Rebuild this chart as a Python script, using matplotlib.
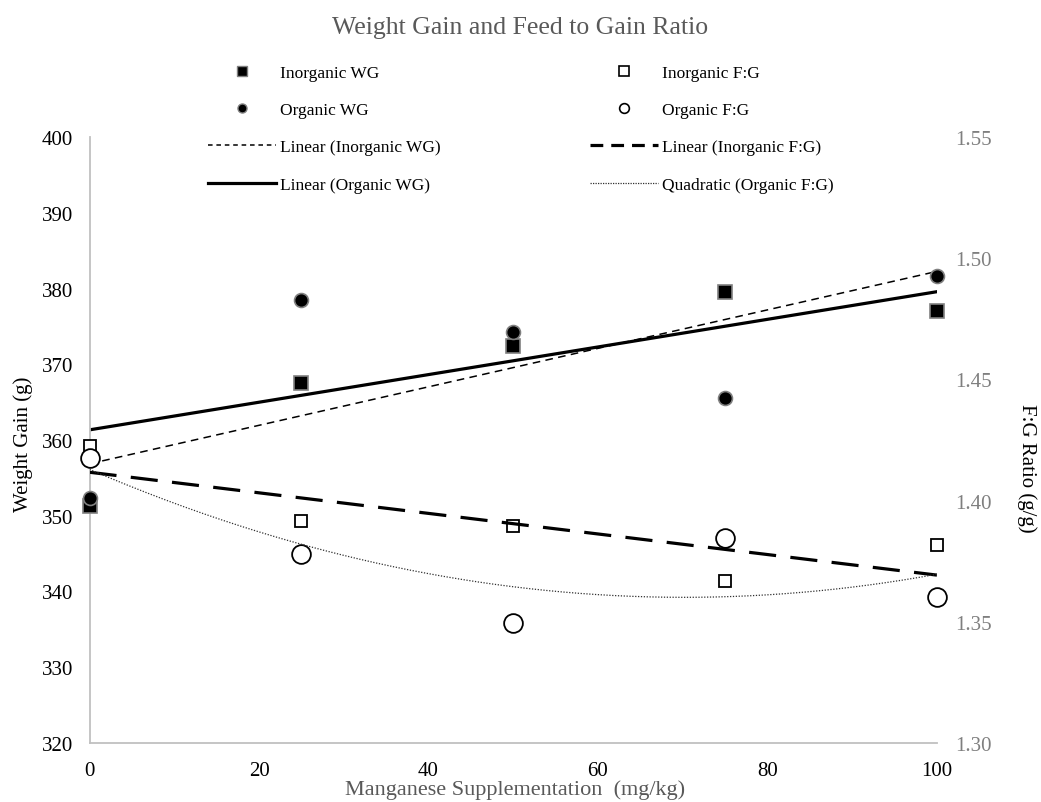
import numpy as np
import matplotlib
matplotlib.use('Agg')
import matplotlib.pyplot as plt
from matplotlib.lines import Line2D

plt.rcParams['font.family'] = ['Liberation Serif', 'DejaVu Serif']

# Data
mn_level = [0, 25, 50, 75, 100]                      # mg/kg
inorganic_wg = [351.3, 367.5, 372.4, 379.6, 377.0]   # g
organic_wg = [352.4, 378.5, 374.2, 365.5, 381.7]     # g
inorganic_fg = [1.4224, 1.3917, 1.3896, 1.3670, 1.3817]
organic_fg = [1.4174, 1.3780, 1.3494, 1.3844, 1.3601]

x_ticks = [0, 20, 40, 60, 80, 100]
wg_ticks = list(range(320, 401, 10))
fg_ticks = [1.30, 1.35, 1.40, 1.45, 1.50, 1.55]

GRAY_TXT = '#595959'
SPINE = '#c0c0c0'
MEC = '#808080'

fig = plt.figure(figsize=(10.41, 8.03), dpi=100)
ax = fig.add_axes([0.086, 0.0735, 0.814, 0.7546])
ax2 = ax.twinx()

x = np.array(mn_level, dtype=float)
xs = np.linspace(0, 100, 400)

# weight gain (left axis)
ax.plot(x, inorganic_wg, ls='none', marker='s', ms=10.5, mfc='black',
        mec=MEC, mew=1.2, zorder=3, clip_on=False)
ax.plot(x, organic_wg, ls='none', marker='o', ms=10, mfc='black',
        mec=MEC, mew=1.2, zorder=3, clip_on=False)

k = np.polyfit(x, inorganic_wg, 1)
ax.plot(xs, np.polyval(k, xs), color='black', lw=1.1, dashes=(5, 3.5), zorder=2)
k = np.polyfit(x, organic_wg, 1)
ax.plot(xs, np.polyval(k, xs), color='black', lw=2.3, zorder=2)

# feed to gain (right axis)
ax2.plot(x, inorganic_fg, ls='none', marker='s', ms=8, mfc='white',
         mec='black', mew=1.3, zorder=2, clip_on=False)
ax2.plot(x, organic_fg, ls='none', marker='o', ms=13.5, mfc='white',
         mec='black', mew=1.3, zorder=2, clip_on=False)

k = np.polyfit(x, inorganic_fg, 1)
ax2.plot(xs, np.polyval(k, xs), color='black', lw=2.3, dashes=(8.5, 4.5), zorder=3)
k = np.polyfit(x, organic_fg, 2)
ax2.plot(xs, np.polyval(k, xs), color='#303030', lw=0.9, ls=(0, (1, 1.3)), zorder=3)

# axes styling
ax.set_xlim(0, 100)
ax.set_ylim(320, 400)
ax2.set_ylim(1.30, 1.55)
ax.set_xticks(x_ticks)
ax.set_yticks(wg_ticks)
ax2.set_yticks(fg_ticks)
ax2.set_yticklabels([f'{v:.2f}' for v in fg_ticks])

for s in ['top', 'right']:
    ax.spines[s].set_visible(False)
for s in ax2.spines.values():
    s.set_visible(False)
ax.spines['left'].set_color(SPINE)
ax.spines['bottom'].set_color(SPINE)
ax.spines['left'].set_linewidth(1.3)
ax.spines['bottom'].set_linewidth(1.3)

ax.tick_params(axis='x', length=0, pad=13, labelsize=15, colors='black')
ax.tick_params(axis='y', length=0, pad=12, labelsize=15, colors='black')
ax2.tick_params(axis='y', length=0, pad=13, labelsize=15, colors='#7f7f7f')

fig.text(0.4995, 1 - 28 / 803, 'Weight Gain and Feed to Gain Ratio',
         ha='center', va='center', fontsize=18.5, color=GRAY_TXT)
fig.text(515 / 1041, 1 - 790 / 803, 'Manganese Supplementation  (mg/kg)',
         ha='center', va='center', fontsize=16, color=GRAY_TXT)
fig.text(23 / 1041, 1 - 444 / 803, 'Weight Gain (g)', rotation=90,
         ha='center', va='center', fontsize=15, color='black')
fig.text(1027 / 1041, 1 - 468 / 803, 'F:G Ratio (g/g)', rotation=270,
         ha='center', va='center', fontsize=15, color='black')

# legend, two columns placed separately
left_handles = [
    Line2D([], [], ls='none', marker='s', ms=7, mfc='black', mec=MEC, mew=1),
    Line2D([], [], ls='none', marker='o', ms=6.5, mfc='black', mec=MEC, mew=1),
    Line2D([], [], color='black', lw=1.1, dashes=(3, 2.5)),
    Line2D([], [], color='black', lw=2.3),
]
left_labels = ['Inorganic WG', 'Organic WG', 'Linear (Inorganic WG)', 'Linear (Organic WG)']
right_handles = [
    Line2D([], [], ls='none', marker='s', ms=6.5, mfc='white', mec='black', mew=1.2),
    Line2D([], [], ls='none', marker='o', ms=7, mfc='white', mec='black', mew=1.2),
    Line2D([], [], color='black', lw=2.3, dashes=(4, 2.5)),
    Line2D([], [], color='#303030', lw=0.9, ls=(0, (1, 1))),
]
right_labels = ['Inorganic F:G', 'Organic F:G', 'Linear (Inorganic F:G)', 'Quadratic (Organic F:G)']

for hs, ls_, x0 in [(left_handles, left_labels, 208), (right_handles, right_labels, 590)]:
    fig.legend(hs, ls_, loc='center left', bbox_to_anchor=(x0 / 1041, 1 - 129.5 / 803),
               frameon=False, fontsize=12.5, handlelength=3.9, handletextpad=0.25,
               labelspacing=1.22, borderpad=0, borderaxespad=0, numpoints=1)

fig.savefig('out.png', dpi=100)
